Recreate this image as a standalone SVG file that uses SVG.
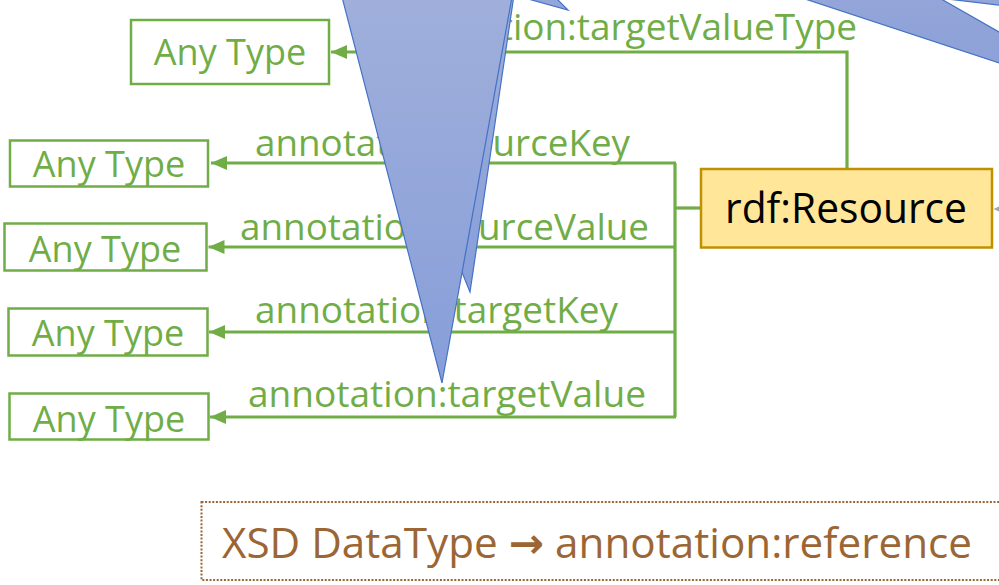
<svg xmlns="http://www.w3.org/2000/svg" width="999" height="585" viewBox="0 0 999 585">
  <style>
    .box { fill: #ffffff; stroke: #70ad47; stroke-width: 2.5; }
    .boxtext { font-family: "Open Sans", "Noto Sans", sans-serif; font-size: 36px; fill: #70ad47; text-anchor: middle; }
    .label { font-family: "Open Sans", "Noto Sans", sans-serif; font-size: 36px; fill: #70ad47; }
    .wire { fill: none; stroke: #70ad47; stroke-width: 3.2; }
    .tail { stroke: #4472c4; stroke-width: 1.2; stroke-linejoin: miter; }
  </style>
  <defs>
    <marker id="arrow" viewBox="0 0 16 14" refX="16" refY="7" markerWidth="16" markerHeight="14" markerUnits="userSpaceOnUse" orient="auto">
      <path d="M0,0 L16,7 L0,14 Z" fill="#70ad47"/>
    </marker>
    <linearGradient id="tailFill" x1="0" y1="0" x2="0" y2="1">
      <stop offset="0" stop-color="#a0afdb"/>
      <stop offset="1" stop-color="#879ed9"/>
    </linearGradient>
    <linearGradient id="bandFill" x1="0" y1="0" x2="0" y2="1">
      <stop offset="0" stop-color="#93a5d9"/>
      <stop offset="1" stop-color="#8da1d8"/>
    </linearGradient>
  </defs>

  <rect x="0" y="0" width="999" height="585" fill="#ffffff"/>

  <!-- connectors -->
  <g id="connectors">
    <path class="wire" d="M847,169 V52 H331" marker-end="url(#arrow)"/>
    <path class="wire" d="M701,208 H675"/>
    <path class="wire" d="M675,163 V417"/>
    <path class="wire" d="M676,163 H211" marker-end="url(#arrow)"/>
    <path class="wire" d="M676,247 H208.5" marker-end="url(#arrow)"/>
    <path class="wire" d="M676,332 H209" marker-end="url(#arrow)"/>
    <path class="wire" d="M676,417 H210" marker-end="url(#arrow)"/>
    <text class="label" x="378" y="40" textLength="479" lengthAdjust="spacingAndGlyphs">annotation:targetValueType</text>
    <text class="label" x="255" y="156" textLength="375" lengthAdjust="spacingAndGlyphs">annotation:sourceKey</text>
    <text class="label" x="240" y="240" textLength="409" lengthAdjust="spacingAndGlyphs">annotation:sourceValue</text>
    <text class="label" x="255" y="323" textLength="363" lengthAdjust="spacingAndGlyphs">annotation:targetKey</text>
    <text class="label" x="248" y="407" textLength="398" lengthAdjust="spacingAndGlyphs">annotation:targetValue</text>
    <!-- incoming arrowhead at the right edge of rdf:Resource -->
    <path d="M993.5,209 L1003,204.5 L1003,213.5 Z" fill="#a6a6a6"/>
  </g>

  <!-- nodes -->
  <g id="any-type-value-type">
    <rect class="box" x="131" y="20" width="198" height="64"/>
    <text class="boxtext" x="230" y="65">Any Type</text>
  </g>
  <g id="any-type-source-key">
    <rect class="box" x="10" y="140.5" width="198" height="46"/>
    <text class="boxtext" x="109" y="177">Any Type</text>
  </g>
  <g id="any-type-source-value">
    <rect class="box" x="4.5" y="223.5" width="202" height="47"/>
    <text class="boxtext" x="105" y="261.5">Any Type</text>
  </g>
  <g id="any-type-target-key">
    <rect class="box" x="8.5" y="308.5" width="199" height="47"/>
    <text class="boxtext" x="108" y="346">Any Type</text>
  </g>
  <g id="any-type-target-value">
    <rect class="box" x="9.5" y="393.5" width="199" height="46"/>
    <text class="boxtext" x="109" y="431.5">Any Type</text>
  </g>
  <g id="rdf-resource">
    <rect x="701" y="169" width="291" height="78.5" fill="#ffe699" stroke="#bf9000" stroke-width="2.5"/>
    <text x="846" y="223" font-family="'Open Sans', 'Noto Sans', sans-serif" font-size="42" fill="#000000" text-anchor="middle" textLength="242" lengthAdjust="spacingAndGlyphs">rdf:Resource</text>
  </g>
  <g id="xsd-note">
    <rect x="201.5" y="502" width="830" height="78" fill="none" stroke="#9c6634" stroke-width="2" stroke-dasharray="2 1.6"/>
    <text x="222" y="558" font-family="'Open Sans', 'DejaVu Sans', sans-serif" font-size="42" fill="#9c6634" textLength="750" lengthAdjust="spacingAndGlyphs">XSD DataType <tspan font-family="'DejaVu Sans', sans-serif" font-weight="bold">→</tspan> annotation:reference</text>
  </g>

  <!-- callout tails reaching in from above -->
  <g id="callout-tails">
    <polygon class="tail" fill="url(#tailFill)" points="350,-5 514,-5 470,292"/>
    <polygon class="tail" fill="url(#tailFill)" points="342,-3 512,-3 442,383"/>
    <polygon class="tail" fill="#93a5d9" points="521,-3 555,-3 568,10"/>
    <polygon class="tail" fill="url(#bandFill)" points="799,-3 937.7,-3 1010,38.3 1010,66.6"/>
    <polygon class="tail" fill="#93a5d9" points="930,-3 1010,-3 1010,6.3"/>
  </g>
</svg>
